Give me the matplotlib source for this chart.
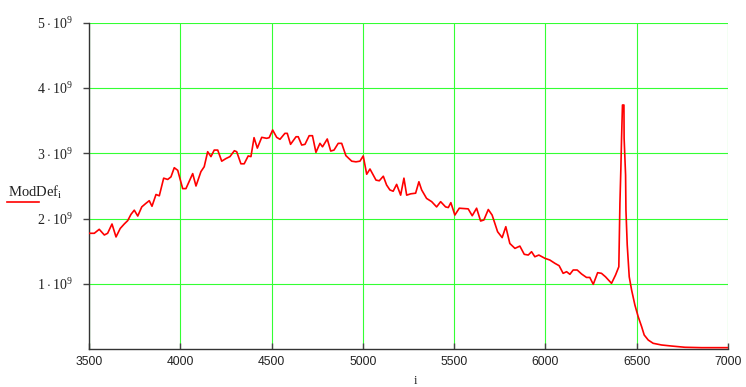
import numpy as np
import matplotlib
matplotlib.use("Agg")
import matplotlib.pyplot as plt

# values (y in units of 1e9)
idx = [3500,3529,3556,3584,3602,3626,3648,3671,3693,3712,3730,3748,3767,3789,3812,3830,3845,3867,3885,3909,
       3931,3949,3967,3986,4013,4031,4068,4086,4113,4131,4150,4168,4186,4205,4227,4250,4272,4296,4309,4332,
       4350,4372,4387,4404,4422,4446,4473,4487,4506,4528,4546,4573,4586,4604,4634,4646,4665,4683,4706,4724,
       4743,4765,4779,4805,4824,4842,4865,4884,4907,4939,4962,4984,5002,5021,5039,5072,5090,5112,5130,5148,
       5166,5185,5207,5225,5240,5262,5289,5307,5322,5349,5377,5404,5426,5453,5468,5482,5504,5528,5577,5599,
       5623,5645,5663,5687,5708,5738,5763,5783,5805,5833,5860,5884,5906,5924,5942,5964,5997,6024,6052,6075,
       6097,6116,6134,6152,6174,6198,6225,6243,6262,6286,6307,6329,6362,6384,6402,6408,6413,6417,6422,6430,
       6431,6439,6441,6448,6459,6472,6490,6508,6527,6541,6563,6590,6636,6691,6764,6855,7000]
moddef = [1.776,1.776,1.837,1.75,1.776,1.918,1.72,1.85,1.918,1.97,2.066,2.13,2.04,2.18,2.235,2.275,2.19,2.37,2.35,2.62,
          2.60,2.64,2.78,2.74,2.46,2.46,2.69,2.50,2.72,2.795,3.025,2.95,3.05,3.05,2.88,2.92,2.95,3.04,3.025,2.84,
          2.84,2.96,2.95,3.24,3.08,3.245,3.23,3.24,3.357,3.245,3.215,3.306,3.306,3.138,3.254,3.254,3.127,3.138,3.27,3.27,
          3.015,3.153,3.10,3.22,3.035,3.05,3.153,3.153,2.965,2.88,2.87,2.88,2.96,2.68,2.76,2.59,2.58,2.65,2.515,2.44,
          2.42,2.525,2.36,2.62,2.36,2.38,2.39,2.565,2.44,2.31,2.26,2.18,2.26,2.18,2.17,2.245,2.055,2.16,2.15,2.045,
          2.16,1.964,1.98,2.14,2.055,1.80,1.71,1.877,1.62,1.545,1.58,1.454,1.443,1.494,1.417,1.443,1.393,1.367,1.316,1.28,
          1.163,1.188,1.148,1.214,1.214,1.153,1.10,1.10,0.995,1.173,1.163,1.11,1.01,1.137,1.264,2.235,2.745,3.23,3.74,3.74,
          3.23,2.668,2.13,1.60,1.11,0.908,0.678,0.50,0.346,0.219,0.142,0.092,0.066,0.05,0.031,0.025,0.025]

xticks = [3500, 4000, 4500, 5000, 5500, 6000, 6500, 7000]
yticks = [1, 2, 3, 4, 5]

plt.rcParams['mathtext.fontset'] = 'custom'
plt.rcParams['mathtext.rm'] = 'Liberation Serif'
plt.rcParams['mathtext.it'] = 'Liberation Serif'

fig = plt.figure(figsize=(7.46, 3.87), dpi=100)
ax = fig.add_axes([89/746, 1 - 349.3/387, (728-89)/746, (349.3-22.7)/387])

ax.plot(idx, np.array(moddef) * 1e9, color='#ff0000', lw=1.2, zorder=3)

ax.set_xlim(3500, 7000)
ax.set_ylim(0, 5e9)
ax.set_xticks(xticks)
ax.set_xticklabels([str(v) for v in xticks], fontfamily='Liberation Sans', fontsize=8.7, color='#222222')
ax.set_yticks([v * 1e9 for v in yticks])
ax.set_yticklabels([r'$\mathrm{%d}\cdot\mathrm{10}^{9}$' % v for v in yticks], fontsize=10, color='#222222')

ax.grid(True, color='#33ff33', lw=0.8, zorder=0)
ax.tick_params(axis='x', direction='in', length=4, width=1, color='#444444', pad=5)
ax.tick_params(axis='y', direction='out', length=4, width=1, color='#444444', pad=8)
for s in ['top', 'right']:
    ax.spines[s].set_visible(False)
for s in ['left', 'bottom']:
    ax.spines[s].set_color('#333333')
    ax.spines[s].set_linewidth(1.0)
ax.set_axisbelow(True)

# legend-like label at left, as in the reference
fig.text(8/746, 1 - 197/387, r'$\mathrm{ModDef}_{\mathrm{i}}$', fontsize=10.5, color='#222222', va='baseline', ha='left')
fig.add_artist(plt.Line2D([7/746, 39/746], [1 - 201.7/387, 1 - 201.7/387], color='#ff0000', lw=1.2))
fig.text(415.7/746, 1 - 384/387, 'i', fontfamily='Liberation Serif', fontsize=9, color='#222222', ha='center', va='baseline')

fig.savefig('out.png', dpi=100)
